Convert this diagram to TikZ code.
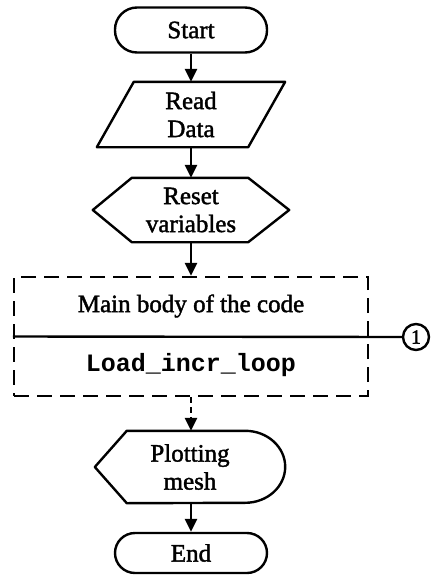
\documentclass[tikz,border=0pt]{standalone}
\usepackage{fontspec}
\setmainfont{Liberation Serif}[FakeBold=1.6]
\setmonofont{Liberation Mono}
\usetikzlibrary{arrows.meta,calc}
\tikzset{
  lw/.style={line width=2.4pt},
  flow/.style={lw,-{Triangle[length=13pt,width=12pt]}},
  lbl/.style={inner sep=0pt,align=center,font=\fontsize{25}{28}\selectfont},
  frame/.style={inner sep=0pt},
  terminal/.style={frame,lw,draw,rounded corners=22pt,minimum width=152pt,minimum height=45pt,
    font=\fontsize{25}{28}\selectfont},
}
\begin{document}
\begin{tikzpicture}[x=1pt,y=-1pt]
\useasboundingbox (0,0) rectangle (441,576);

% Start
\node[terminal] (start) at (191,30) {Start};

% Read Data (parallelogram)
\node[frame,minimum width=188pt,minimum height=65pt] (read) at (191,114.5) {};
\draw[lw,line join=round] ($(read.north west)+(37,0)$) -- (read.north east)
  -- ($(read.south east)+(-37,0)$) -- (read.south west) -- cycle;
\node[lbl] (readtxt) at (read.center) {Read\\Data};

% Reset variables (hexagon)
\node[frame,minimum width=196pt,minimum height=64pt] (reset) at (191,210) {};
\draw[lw,line join=round] (reset.west) -- ($(reset.north west)+(39,0)$)
  -- ($(reset.north east)+(-41,0)$) -- (reset.east)
  -- ($(reset.south east)+(-41,0)$) -- ($(reset.south west)+(39,0)$) -- cycle;
\node[lbl] (resettxt) at (reset.center) {Reset\\variables};

% Main body (dashed frame split by a line)
\node[frame,lw,draw,dash pattern=on 15pt off 8pt,minimum width=354pt,minimum height=119pt] (body) at (191,336.5) {};
\node[lbl] (bodytop) at (191,306) {Main body of the code};
\node[lbl,font=\fontsize{25}{28}\ttfamily\bfseries] (bodybot) at (191,365) {Load\_incr\_loop};
\node[lw,draw,circle,minimum size=26pt,inner sep=0pt,font=\fontsize{20}{24}\selectfont] (c1) at (416,337) {1};
\draw[lw] (body.west) -- (c1.west);

% Plotting mesh (display shape)
\node[frame,minimum width=190pt,minimum height=72pt] (plot) at (190,467) {};
\draw[lw,line join=round] (plot.west) -- ($(plot.north west)+(32,0)$)
  -- ($(plot.north east)+(-40,0)$) arc (90:-90:40pt and 36pt)
  -- ($(plot.south west)+(32,0)$) -- cycle;
\node[lbl] (plottxt) at (plot.center) {Plotting\\mesh};

% End
\node[terminal,minimum height=40pt,rounded corners=20pt] (end) at (191,553) {End};

% connectors
\draw[flow] (start.south) -- (read.north);
\draw[flow] (read.south) -- (reset.north);
\draw[flow] (reset.south) -- (body.north);
\draw[flow,dash pattern=on 6pt off 4pt] (body.south) -- (plot.north -| body.south);
\draw[flow] (plot.south -| start.south) -- (end.north);
\end{tikzpicture}
\end{document}
